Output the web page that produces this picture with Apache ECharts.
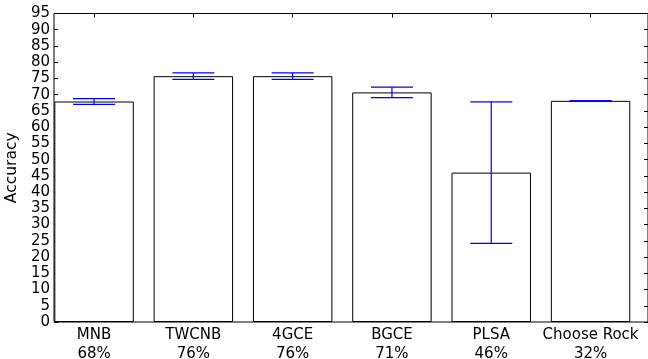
<!DOCTYPE html>
<html>
<head>
<meta charset="utf-8">
<script src="https://cdn.jsdelivr.net/npm/echarts@6/dist/echarts.min.js"></script>
<style>
html,body{margin:0;padding:0;background:#fff;}
#chart{width:648px;height:359px;}
</style>
</head>
<body>
<div id="chart"></div>
<script>
// ---- data ----
var methods = ['MNB', 'TWCNB', '4GCE', 'BGCE', 'PLSA', 'Choose Rock'];
var percents = ['68%', '76%', '76%', '71%', '46%', '32%'];
var accuracy = [67.9, 75.7, 75.7, 70.7, 46.0, 68.1];
var errors = [0.86, 1.0, 1.0, 1.6, 21.8, 0];
var yTicks = [0, 95, 5]; // min, max, step

var categories = methods.map(function (m, i) { return m + '\n' + percents[i]; });
var errData = accuracy.map(function (v, i) { return [i, v - errors[i], v + errors[i]]; });

var FONT = 'DejaVu Sans';
var chart = echarts.init(document.getElementById('chart'), null, {renderer: 'canvas'});
var gridTop = 13.5, gridBottom = 37;

var option = {
  animation: false,
  backgroundColor: '#fff',
  grid: [
    {left: 54, right: 0, top: gridTop, bottom: gridBottom, show: true, borderColor: '#000', borderWidth: 1,
     backgroundColor: 'transparent', containLabel: false, outerBoundsMode: 'none'},
    {left: 44.4, right: 7.8, top: gridTop, bottom: gridBottom, containLabel: false, outerBoundsMode: 'none'}
  ],
  xAxis: [
    {gridIndex: 0, type: 'value', min: 0, max: 1, show: false},
    {gridIndex: 1, type: 'category', data: categories, position: 'bottom',
     axisLine: {show: false},
     axisTick: {show: true, inside: true, alignWithLabel: true, length: 4, lineStyle: {color: '#000'}},
     axisLabel: {color: '#000', fontFamily: FONT, fontSize: 15, lineHeight: 19, margin: 3.5, interval: 0}},
    {gridIndex: 1, type: 'category', data: categories, position: 'top',
     axisLine: {show: false},
     axisTick: {show: true, inside: true, alignWithLabel: true, length: 4, lineStyle: {color: '#000'}},
     axisLabel: {show: false}}
  ],
  yAxis: [
    {gridIndex: 0, type: 'value', min: yTicks[0], max: yTicks[1], interval: yTicks[2], position: 'left',
     name: 'Accuracy', nameLocation: 'middle', nameGap: 29, nameRotate: 90,
     nameTextStyle: {color: '#000', fontFamily: FONT, fontSize: 15.5},
     axisLine: {show: false}, splitLine: {show: false},
     axisTick: {show: true, inside: true, length: 4, lineStyle: {color: '#000'}},
     axisLabel: {color: '#000', fontFamily: FONT, fontSize: 15, margin: 4}},
    {gridIndex: 0, type: 'value', min: yTicks[0], max: yTicks[1], interval: yTicks[2], position: 'right',
     axisLine: {show: false}, splitLine: {show: false},
     axisTick: {show: true, inside: true, length: 4, lineStyle: {color: '#000'}},
     axisLabel: {show: false}},
    {gridIndex: 1, type: 'value', min: yTicks[0], max: yTicks[1], show: false}
  ],
  series: [
    {type: 'bar', xAxisIndex: 1, yAxisIndex: 2, data: accuracy, barWidth: '80%',
     itemStyle: {color: '#fff', borderColor: '#000', borderWidth: 1}, z: 2},
    {type: 'custom', xAxisIndex: 1, yAxisIndex: 2, data: errData, z: 5,
     renderItem: function (params, api) {
       var x = api.value(0);
       var lo = api.coord([x, api.value(1)]);
       var hi = api.coord([x, api.value(2)]);
       var hw = 21;
       var st = {stroke: '#0000ff', lineWidth: 1.2};
       return {type: 'group', children: [
         {type: 'line', shape: {x1: lo[0], y1: lo[1], x2: hi[0], y2: hi[1]}, style: st},
         {type: 'line', shape: {x1: lo[0] - hw, y1: lo[1], x2: lo[0] + hw, y2: lo[1]}, style: st},
         {type: 'line', shape: {x1: hi[0] - hw, y1: hi[1], x2: hi[0] + hw, y2: hi[1]}, style: st}
       ]};
     }}
  ]
};
chart.setOption(option);
</script>
</body>
</html>
